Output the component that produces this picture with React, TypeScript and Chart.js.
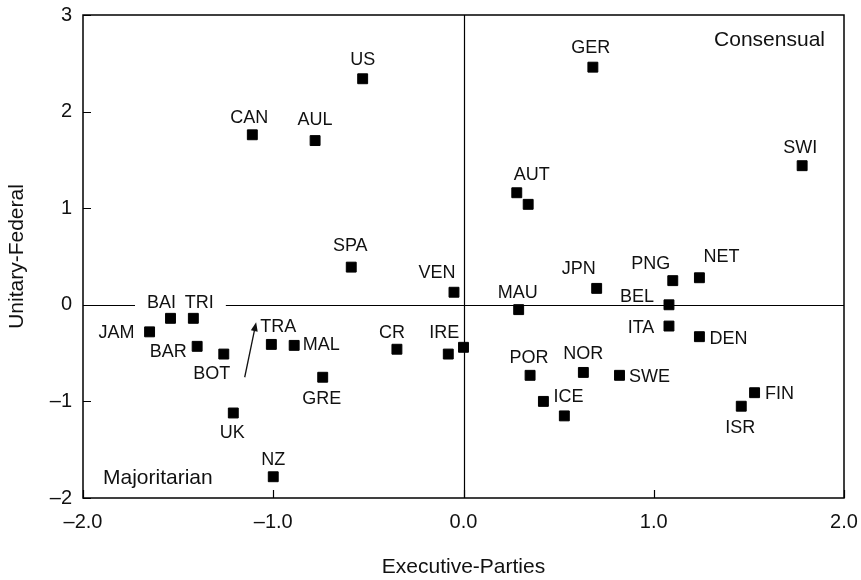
import React, { useEffect, useRef } from 'react';
import { Chart, registerables } from 'chart.js';

Chart.register(...registerables);

const FONT = '"Liberation Sans", Arial, Helvetica, sans-serif';

// Country codes
const countries = [
  'US', 'CAN', 'AUL', 'GER', 'SWI', 'AUT', '', 'SPA', 'VEN', 'MAU',
  'JPN', 'PNG', 'NET', 'BEL', 'ITA', 'DEN', 'SWE', 'FIN', 'ISR', 'NOR',
  'POR', 'ICE', '', 'CR', 'IRE', '', 'JAM', 'BAI', 'TRI', 'BAR',
  'BOT', 'TRA', 'MAL', 'GRE', 'UK', 'NZ',
];

// Executive-parties dimension (x)
const executiveParties = [
  -0.53, -1.11, -0.78, 0.68, 1.78, 0.28, 0.34, -0.59, -0.05, 0.29,
  0.70, 1.10, 1.24, 1.08, 1.08, 1.24, 0.82, 1.53, 1.46, 0.63,
  0.35, 0.42, 0.53, -0.35, -0.08, 0.0, -1.65, -1.54, -1.42, -1.40,
  -1.26, -1.01, -0.89, -0.74, -1.21, -1.00,
];

// Unitary-federal dimension (y)
const unitaryFederal = [
  2.34, 1.76, 1.70, 2.46, 1.44, 1.16, 1.04, 0.39, 0.13, -0.05,
  0.17, 0.25, 0.28, 0.00, -0.22, -0.33, -0.73, -0.91, -1.05, -0.70,
  -0.73, -1.00, -1.15, -0.46, -0.51, -0.44, -0.28, -0.14, -0.14, -0.43,
  -0.51, -0.41, -0.42, -0.75, -1.12, -1.78,
];

// Label placement offsets (pixels, relative to the marker)
const labelDx = [
  0, -3, 0, -2, -2, 15, 0, -1, -17, -1,
  -18, -22, 22, -32, -28, 29, 30, 25, -1, 0,
  -1, 25, 0, -5, -4, 0, -33, -9, 6, -29,
  -12, 7, 27, -1, -1, 0,
];
const labelDy = [
  -19, -17, -21, -19, -18, -18, 0, -21, -19, -17,
  -19, -17, -21, -8, 2, 2, 2, 1, 22, -18,
  -17, -4, 0, -16, -21, 0, 1, -15, -15, 6,
  20, -17, 0, 22, 20, -17,
];
// Labels that sit on the zero line and knock it out
const knockoutLabels = ['BAI', 'TRI'];

const xTickValues = [-2, -1, 0, 1, 2];
const yTickValues = [-2, -1, 0, 1, 2, 3];

// Arrow (tail -> head) in data units
const arrowX = [-1.15, -1.09];
const arrowY = [-0.75, -0.18];

const quadrantLabels = ['Consensual', 'Majoritarian'];
const xTitle = 'Executive-Parties';
const yTitle = 'Unitary-Federal';

const dash = (v: number, digits: number) => {
  const s = Math.abs(v).toFixed(digits);
  return v < 0 ? '\u2013' + s : s;
};

const decorPlugin = {
  id: 'decor',
  beforeDatasetsDraw(chart: any) {
    const { ctx, chartArea: a, scales } = chart;
    const xs = scales.x;
    const ys = scales.y;
    ctx.save();
    ctx.strokeStyle = '#000';
    ctx.lineWidth = 1.2;
    const x0 = Math.round(xs.getPixelForValue(0)) + 0.5;
    const y0 = Math.round(ys.getPixelForValue(0)) + 0.5;
    ctx.beginPath();
    ctx.moveTo(x0, a.top);
    ctx.lineTo(x0, a.bottom);
    ctx.moveTo(a.left, y0);
    ctx.lineTo(a.right, y0);
    ctx.stroke();
    // knock out the zero line behind labels sitting on it
    ctx.font = `18px ${FONT}`;
    ctx.fillStyle = '#fff';
    countries.forEach((c, i) => {
      if (!knockoutLabels.includes(c)) return;
      const px = xs.getPixelForValue(executiveParties[i]) + labelDx[i];
      const py = ys.getPixelForValue(unitaryFederal[i]) + labelDy[i];
      const w = ctx.measureText(c).width;
      ctx.fillRect(px - w / 2 - 12, py - 9, w + 24, 18);
    });
    ctx.restore();
  },
  afterDatasetsDraw(chart: any) {
    const { ctx, chartArea: a, scales } = chart;
    const xs = scales.x;
    const ys = scales.y;
    ctx.save();
    // frame
    ctx.strokeStyle = '#000';
    ctx.lineWidth = 1.5;
    ctx.strokeRect(a.left, a.top, a.right - a.left, a.bottom - a.top);
    // inward ticks
    ctx.lineWidth = 1.2;
    ctx.beginPath();
    xTickValues.forEach((v) => {
      const p = Math.round(xs.getPixelForValue(v)) + 0.5;
      ctx.moveTo(p, a.bottom);
      ctx.lineTo(p, a.bottom - 8);
    });
    yTickValues.forEach((v) => {
      const p = Math.round(ys.getPixelForValue(v)) + 0.5;
      ctx.moveTo(a.left, p);
      ctx.lineTo(a.left + 8, p);
    });
    ctx.stroke();

    // country labels
    ctx.fillStyle = '#111';
    ctx.font = `18px ${FONT}`;
    ctx.textAlign = 'center';
    ctx.textBaseline = 'middle';
    countries.forEach((c, i) => {
      if (!c) return;
      const px = xs.getPixelForValue(executiveParties[i]) + labelDx[i];
      const py = ys.getPixelForValue(unitaryFederal[i]) + labelDy[i];
      ctx.fillText(c, px, py);
    });

    // arrow
    const tx = xs.getPixelForValue(arrowX[0]);
    const ty = ys.getPixelForValue(arrowY[0]);
    const hx = xs.getPixelForValue(arrowX[1]);
    const hy = ys.getPixelForValue(arrowY[1]);
    const ang = Math.atan2(hy - ty, hx - tx);
    ctx.strokeStyle = '#111';
    ctx.lineWidth = 1.3;
    ctx.beginPath();
    ctx.moveTo(tx, ty);
    ctx.lineTo(hx - 6 * Math.cos(ang), hy - 6 * Math.sin(ang));
    ctx.stroke();
    ctx.beginPath();
    ctx.moveTo(hx, hy);
    ctx.lineTo(hx - 9 * Math.cos(ang) + 3.5 * Math.sin(ang), hy - 9 * Math.sin(ang) - 3.5 * Math.cos(ang));
    ctx.lineTo(hx - 9 * Math.cos(ang) - 3.5 * Math.sin(ang), hy - 9 * Math.sin(ang) + 3.5 * Math.cos(ang));
    ctx.closePath();
    ctx.fillStyle = '#111';
    ctx.fill();

    // quadrant labels
    ctx.font = `21px ${FONT}`;
    ctx.textBaseline = 'middle';
    ctx.textAlign = 'right';
    ctx.fillText(quadrantLabels[0], a.right - 19, a.top + 25);
    ctx.textAlign = 'left';
    ctx.fillText(quadrantLabels[1], a.left + 20, a.bottom - 20);

    // axis titles
    ctx.font = `21px ${FONT}`;
    ctx.textAlign = 'center';
    ctx.fillText(xTitle, (a.left + a.right) / 2, a.bottom + 69);
    ctx.translate(17, (a.top + a.bottom) / 2);
    ctx.rotate(-Math.PI / 2);
    ctx.fillText(yTitle, 0, 0);
    ctx.restore();
  },
};

export default function App() {
  const ref = useRef<HTMLCanvasElement | null>(null);
  useEffect(() => {
    document.body.style.margin = '0';
    const canvas = ref.current;
    if (!canvas) return;
    const chart = new Chart(canvas, {
      type: 'scatter',
      data: {
        datasets: [
          {
            data: executiveParties.map((x, i) => ({ x, y: unitaryFederal[i] })),
            pointStyle: 'rect',
            pointRadius: 7,
            pointHoverRadius: 7,
            backgroundColor: '#000',
            borderColor: '#000',
            borderWidth: 1,
          },
        ],
      },
      options: {
        responsive: false,
        animation: false,
        events: [],
        layout: { padding: { top: 15, right: 17, left: 0, bottom: 0 } },
        plugins: { legend: { display: false }, tooltip: { enabled: false } },
        scales: {
          x: {
            type: 'linear',
            min: -2,
            max: 2,
            afterBuildTicks: (s: any) => {
              s.ticks = xTickValues.map((value) => ({ value }));
            },
            afterFit: (s: any) => {
              s.height = 82;
              s.paddingLeft = 0;
              s.paddingRight = 0;
            },
            grid: { display: false, drawTicks: false },
            border: { display: false },
            ticks: {
              autoSkip: false,
              maxRotation: 0,
              padding: 12,
              color: '#111',
              font: { family: FONT, size: 20 },
              callback: (v: any) => dash(Number(v), 1),
            },
          },
          y: {
            type: 'linear',
            min: -2,
            max: 3,
            afterBuildTicks: (s: any) => {
              s.ticks = yTickValues.map((value) => ({ value }));
            },
            afterFit: (s: any) => {
              s.width = 83;
              s.paddingTop = 0;
              s.paddingBottom = 0;
            },
            grid: { display: false, drawTicks: false },
            border: { display: false },
            ticks: {
              autoSkip: false,
              padding: 11,
              color: '#111',
              font: { family: FONT, size: 20 },
              callback: (v: any) => dash(Number(v), 0),
            },
          },
        },
      },
      plugins: [decorPlugin],
    });
    return () => chart.destroy();
  }, []);
  return (
    <div style={{ width: 861, height: 580 }}>
      <canvas ref={ref} width={861} height={580} style={{ width: 861, height: 580, display: 'block' }} />
    </div>
  );
}
